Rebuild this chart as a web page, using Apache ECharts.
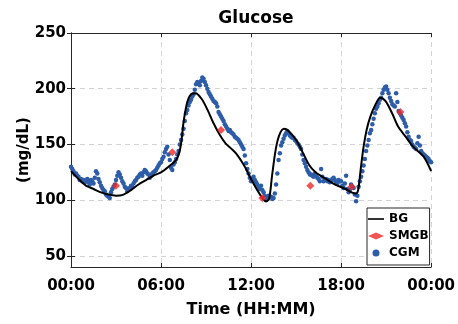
<!DOCTYPE html>
<html>
<head>
<meta charset="utf-8">
<script src="https://cdn.jsdelivr.net/npm/echarts@6/dist/echarts.min.js"></script>
<style>
  html, body { margin: 0; padding: 0; background: #fff; }
  #chart { width: 458px; height: 324px; }
</style>
</head>
<body>
<div id="chart"></div>
<script>
// Blood glucose over one day (hours from midnight)
const xTicks = [0, 6, 12, 18, 24];
const xTickLabels = ['00:00', '06:00', '12:00', '18:00', '00:00'];
const yTicks = [50, 100, 150, 200, 250];

// Reference BG trace (mg/dL)
const bgTime = [0, 0.5, 1.0, 1.5, 2.0, 2.5, 3.0, 3.5, 4.0, 4.5, 5.0, 5.5, 6.0, 6.5, 7.0, 7.2, 7.35, 7.5, 7.75, 8.0,
  8.3, 8.7, 9.1, 9.5, 9.9, 10.3, 10.7, 11.0, 11.5, 12.0, 12.5, 12.85, 13.0, 13.2, 13.4, 13.65, 13.9, 14.2, 14.5,
  15.0, 15.4, 15.85, 16.3, 17.0, 17.6, 18.3, 18.7, 19.0, 19.15, 19.3, 19.5, 19.7, 19.95, 20.3, 20.6, 20.95, 21.4,
  21.8, 22.3, 22.8, 23.5, 24.0];
const bgValue = [126, 119, 113, 110, 107, 105, 104, 105, 109, 114, 118, 122, 125, 130, 136, 142, 152, 170, 188, 195,
  196, 191, 181, 169, 159, 151, 146, 142, 132, 119, 107, 100, 99, 101, 122, 146, 159, 164, 162,
  154, 144, 132, 125, 119, 114, 110, 107, 106, 110, 127, 148, 163, 175, 186, 192, 189, 178,
  166, 157, 148, 139, 126];

// Finger-stick readings
const smbgTime = [3.0, 6.75, 10.0, 12.75, 15.95, 18.7, 21.95];
const smbgValue = [113, 143, 163, 102, 113, 112, 179];

// Sensor readings every 5 minutes, one row per hour
const cgmValue = [
  130, 128, 126, 123, 124, 122, 121, 118, 119, 117, 118, 116,
  117, 119, 116, 114, 118, 117, 115, 120, 126, 124, 119, 116,
  113, 111, 109, 108, 105, 104, 103, 102, 107, 110, 112, 114,
  118, 122, 125, 123, 120, 117, 115, 112, 111, 108, 109, 111,
  113, 112, 115, 117, 118, 120, 121, 123, 124, 122, 125, 127,
  126, 124, 123, 120, 122, 124, 125, 126, 127, 129, 131, 133,
  134, 137, 139, 143, 146, 148, 141, 136, 129, 127, 132, 134,
  137, 141, 144, 150, 154, 159, 164, 171, 178, 181, 185, 188,
  190, 193, 195, 199, 204, 206, 205, 203, 207, 210, 209, 206,
  203, 200, 197, 195, 193, 191, 189, 188, 187, 184, 179, 177,
  175, 173, 171, 168, 166, 164, 162, 163, 161, 160, 159, 157,
  156, 155, 154, 152, 150, 148, 146, 140, 133, 128, 124, 120,
  117, 119, 121, 118, 116, 114, 112, 110, 113, 109, 107, 104,
  100, 102, 104, 103, 103, 101, 102, 106, 114, 124, 136, 142,
  149, 152, 155, 158, 160, 162, 160, 158, 157, 156, 156, 154,
  153, 151, 150, 148, 146, 141, 136, 133, 130, 127, 125, 123,
  123, 122, 121, 124, 122, 120, 119, 117, 128, 121, 117, 118,
  119, 117, 118, 116, 117, 119, 120, 118, 116, 115, 118, 117,
  117, 113, 111, 115, 122, 110, 107, 109, 114, 112, 111, 105,
  99, 104, 112, 117, 121, 126, 131, 137, 144, 149, 154, 160,
  163, 168, 173, 178, 182, 184, 187, 190, 192, 196, 199, 201,
  202, 199, 196, 192, 189, 186, 185, 184, 196, 188, 180, 178,
  176, 174, 172, 169, 166, 161, 157, 154, 153, 150, 148, 147,
  146, 151, 157, 149, 144, 142, 141, 140, 139, 138, 137, 135,
  134
];
const cgmStep = 5 / 60;

const FONT = 'DejaVu Sans';
const INK = '#262626';
// Thin horizontal bar used as the BG legend swatch
const LINE_ICON = 'path://M0,0H20V2H0Z';

const chart = echarts.init(document.getElementById('chart'), null, { renderer: 'canvas' });

const pairs = (xs, ys) => xs.map((x, i) => [x, ys[i]]);

chart.setOption({
  animation: false,
  backgroundColor: '#ffffff',
  title: {
    text: 'Glucose',
    left: 251,
    top: 5,
    textAlign: 'center',
    textStyle: { fontFamily: FONT, fontWeight: 'bold', fontSize: 17, color: '#000' }
  },
  grid: { left: 71, right: 26, top: 33, bottom: 57, containLabel: false },
  legend: {
    orient: 'vertical',
    left: 367,
    top: 208,
    padding: [4, 1, 5, 1],
    itemGap: 3,
    itemWidth: 16,
    itemHeight: 7,
    backgroundColor: '#fff',
    borderColor: INK,
    borderWidth: 1,
    borderRadius: 0,
    textStyle: { fontFamily: FONT, fontWeight: 'bold', fontSize: 12, color: '#000', lineHeight: 14 },
    data: [
      { name: 'BG', icon: LINE_ICON },
      { name: 'SMGB', icon: 'diamond' },
      { name: 'CGM', icon: 'circle' }
    ]
  },
  xAxis: [{
    type: 'value',
    min: 0, max: 24, interval: 6,
    name: 'Time (HH:MM)',
    nameLocation: 'middle',
    nameGap: 35,
    nameTextStyle: { fontFamily: FONT, fontWeight: 'bold', fontSize: 16, color: '#000' },
    axisLine: { show: true, lineStyle: { color: INK, width: 1 } },
    axisTick: { show: true, inside: true, length: 4, lineStyle: { color: INK } },
    axisLabel: {
      margin: 12, fontFamily: FONT, fontWeight: 'bold', fontSize: 15, color: '#000',
      formatter: v => xTickLabels[xTicks.indexOf(v)]
    },
    splitLine: { show: true, lineStyle: { color: '#d4d4d4', type: [5, 4], width: 1 } }
  }, {
    type: 'value',
    position: 'top',
    min: 0, max: 24, interval: 6,
    axisLine: { show: true, lineStyle: { color: INK, width: 1 } },
    axisTick: { show: true, inside: true, length: 4, lineStyle: { color: INK } },
    axisLabel: { show: false },
    splitLine: { show: false }
  }],
  yAxis: [{
    type: 'value',
    min: 40, max: 250,
    name: '(mg/dL)',
    nameLocation: 'middle',
    nameGap: 39,
    nameMoveOverlap: false,
    nameTextStyle: { fontFamily: FONT, fontWeight: 'bold', fontSize: 15, color: '#000' },
    axisLine: { show: true, lineStyle: { color: INK, width: 1 } },
    axisTick: { show: true, inside: true, length: 4, lineStyle: { color: INK }, customValues: yTicks },
    axisLabel: {
      margin: 5, fontFamily: FONT, fontWeight: 'bold', fontSize: 15, color: '#000',
      customValues: yTicks
    },
    splitLine: { show: true, lineStyle: { color: '#d4d4d4', type: [5, 4], width: 1 } }
  }, {
    type: 'value',
    position: 'right',
    min: 40, max: 250,
    axisLine: { show: true, lineStyle: { color: INK, width: 1 } },
    axisTick: { show: true, inside: true, length: 4, lineStyle: { color: INK }, customValues: yTicks },
    axisLabel: { show: false },
    splitLine: { show: false }
  }],
  series: [
    {
      name: 'CGM',
      type: 'scatter',
      symbol: 'circle',
      symbolSize: 4.5,
      itemStyle: { color: '#2d5ca8', opacity: 1 },
      z: 2,
      data: cgmValue.map((v, i) => [i * cgmStep, v])
    },
    {
      name: 'BG',
      type: 'line',
      smooth: 0.3,
      symbol: 'none',
      showSymbol: false,
      lineStyle: { color: '#000', width: 2 },
      itemStyle: { color: '#000' },
      z: 3,
      data: pairs(bgTime, bgValue)
    },
    {
      name: 'SMGB',
      type: 'scatter',
      symbol: 'diamond',
      symbolSize: 8,
      itemStyle: { color: '#f02828' },
      z: 4,
      data: pairs(smbgTime, smbgValue)
    }
  ]
});
</script>
</body>
</html>
